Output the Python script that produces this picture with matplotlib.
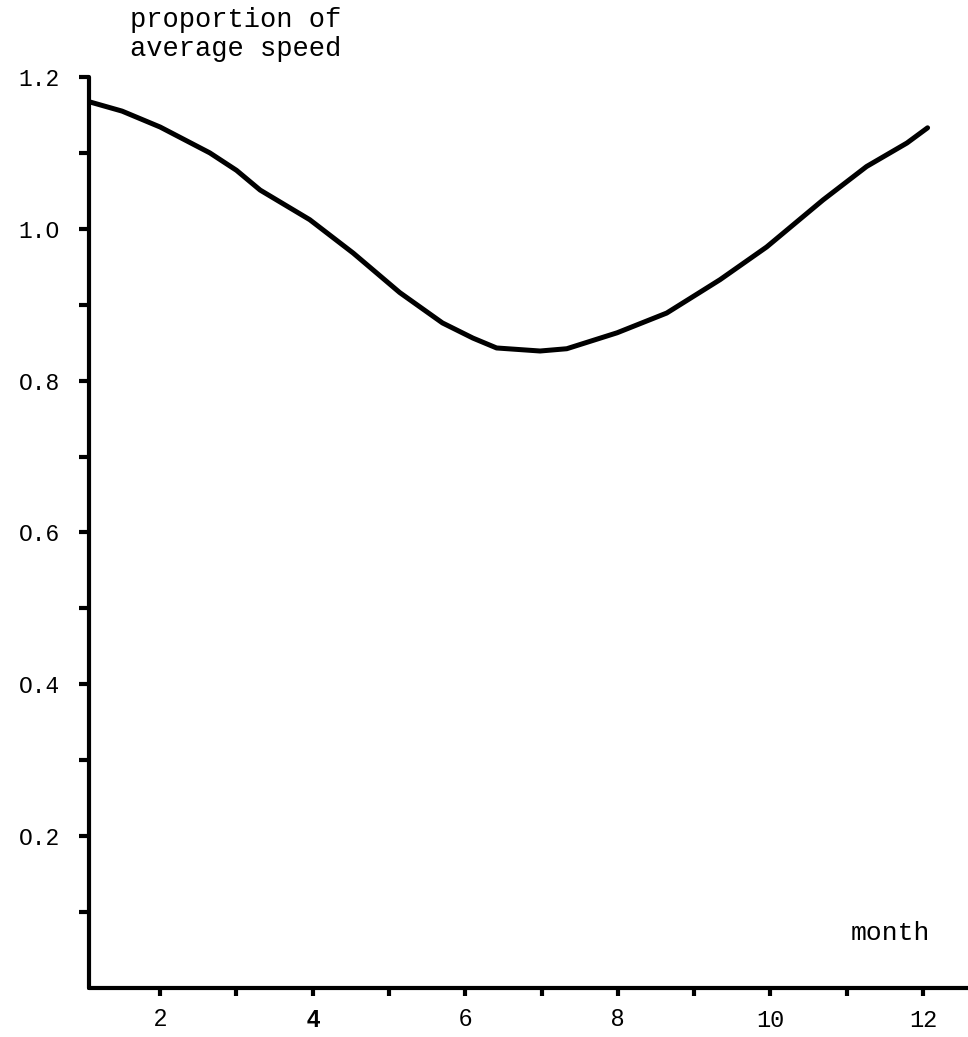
import numpy as np
import matplotlib as mpl
mpl.use("Agg")
import matplotlib.pyplot as plt

# values (month, proportion of average speed)
month = [1.08, 1.5, 2.0, 2.65, 3.0, 3.31, 3.96, 4.53, 5.14, 5.7, 6.1, 6.41,
         6.98, 7.33, 7.99, 8.64, 9.07, 9.34, 9.95, 10.69, 11.26, 11.79, 12.06]
speed = [1.167, 1.155, 1.134, 1.100, 1.077, 1.051, 1.012, 0.968, 0.916, 0.876,
         0.856, 0.843, 0.839, 0.842, 0.863, 0.889, 0.916, 0.933, 0.976, 1.038,
         1.082, 1.113, 1.133]

xticks = [2, 3, 4, 5, 6, 7, 8, 9, 10, 11, 12]
xlabels = ['2', '', '4', '', '6', '', '8', '', '10', '', '12']
yticks = [0.2, 0.4, 0.6, 0.8, 1.0, 1.2]
ylabels = ['O.2', 'O.4', 'O.6', 'O.8', '1.O', '1.2']
yminor = [0.1, 0.3, 0.5, 0.7, 0.9, 1.1]

mono = 'Liberation Mono'

fig = plt.figure(figsize=(9.68, 10.37), dpi=100)
ax = fig.add_axes([0.0919, 0.0473, 0.9081, 0.8785])

ax.plot(month, speed, color='black', lw=3.6, solid_capstyle='round',
        solid_joinstyle='round')

ax.set_xlim(1.066, 12.59)
ax.set_ylim(0, 1.2)

for s in ['top', 'right']:
    ax.spines[s].set_visible(False)
for s in ['left', 'bottom']:
    ax.spines[s].set_linewidth(3)
    ax.spines[s].set_capstyle('round')

ax.set_xticks(xticks)
ax.set_xticklabels(xlabels)
ax.set_yticks(yticks)
ax.set_yticklabels(ylabels)
ax.set_yticks(yminor, minor=True)

ax.tick_params(axis='y', which='both', direction='out', length=7, width=3,
               pad=14, labelsize=16.5)
ax.tick_params(axis='x', which='both', direction='out', length=6, width=3,
               pad=9, labelsize=17)
for lab in ax.get_yticklabels():
    lab.set_fontfamily(mono)
for lab in ax.get_xticklabels():
    if lab.get_text() in ['10', '12']:
        lab.set_fontfamily(mono)
    else:
        lab.set_fontfamily('Liberation Sans')
    if lab.get_text() == '4':
        lab.set_fontweight('bold')

fig.text(0.134, 0.940, 'proportion of\naverage speed', family=mono, fontsize=19.5,
         ha='left', va='bottom', linespacing=1.15)
ax.text(0.957, 0.06, 'month', family=mono, fontsize=19, ha='right',
        va='center', transform=ax.transAxes)

fig.savefig('out.png', dpi=100, facecolor='white')
